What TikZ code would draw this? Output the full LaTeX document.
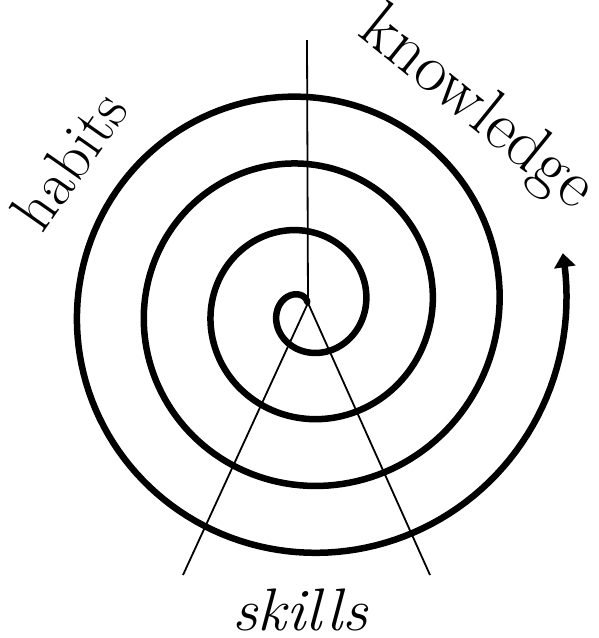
\documentclass[tikz,border=0pt]{standalone}
\usetikzlibrary{arrows.meta}
\begin{document}
\begin{tikzpicture}[x=1pt,y=-1pt,
  spiralline/.style={line width=6.5pt,line cap=round,line join=round},
  thinline/.style={line width=1.8pt},
  label/.style={inner sep=0pt}]
\useasboundingbox (0,0) rectangle (598,638);
% spiral
\draw[spiralline,-{Triangle[width=21pt,length=14pt]}]
  plot[domain=70:1452,samples=600,variable=\t]
  ({305+(-6.5+0.186*\t)*cos(\t)},{308-(-6.5+0.186*\t)*sin(\t)});
% lines
\coordinate (apex) at (308,303);
\coordinate (top) at (307,40);
\coordinate (bl) at (183,575);
\coordinate (br) at (430,575);
\draw[thinline] (apex) -- (top);
\draw[thinline] (apex) -- (bl);
\draw[thinline] (apex) -- (br);
% labels
\node[label,rotate=55,font=\fontsize{62}{66}\selectfont] (habits) at (69,160) {habits};
\node[label,rotate=-39,font=\fontsize{68}{72}\selectfont] (knowledge) at (476,110) {knowledge};
\node[label,anchor=base,font=\fontsize{60}{64}\selectfont\itshape,xscale=1.06] (skills) at (300,630) {skills};
\end{tikzpicture}
\end{document}
